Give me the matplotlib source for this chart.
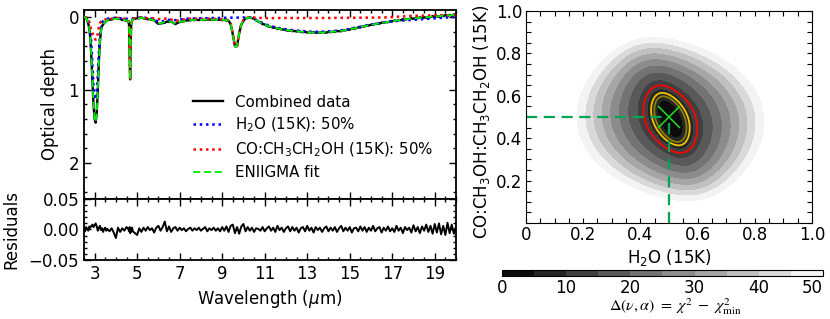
import numpy as np
import matplotlib
matplotlib.use("Agg")
import matplotlib.pyplot as plt
from matplotlib.ticker import MultipleLocator

plt.rcParams['font.family'] = ['DejaVu Sans']
plt.rcParams['font.size'] = 12
plt.rcParams['mathtext.fontset'] = 'dejavusans'

# ---------------- spectrum data ----------------
wavelength = [
    2.50, 2.55, 2.60, 2.65, 2.70, 2.75, 2.80, 2.85, 2.90, 2.95, 3.00, 3.05,
    3.10, 3.15, 3.20, 3.25, 3.30, 3.35, 3.40, 3.45, 3.50, 3.55, 3.60,
    3.7, 3.8, 3.9, 4.0, 4.1, 4.2, 4.3, 4.4, 4.5,
    4.58, 4.62, 4.65, 4.67, 4.69, 4.72, 4.76,
    4.8, 4.9, 5.0, 5.1, 5.2, 5.3, 5.4, 5.5, 5.6, 5.7,
    5.8, 5.9, 6.0, 6.1, 6.2, 6.3, 6.4, 6.5, 6.6, 6.7,
    6.8, 6.9, 7.0, 7.1, 7.2, 7.3, 7.4, 7.5, 7.6, 7.7,
    7.8, 7.9, 8.0, 8.1, 8.2, 8.3, 8.4, 8.5, 8.6, 8.7,
    8.8, 8.9, 9.0, 9.1, 9.2, 9.3, 9.4, 9.5, 9.6, 9.7,
    9.8, 9.9, 10.0, 10.1, 10.2, 10.3, 10.4, 10.5, 10.6, 10.7,
    10.8, 10.9, 11.0, 11.1, 11.2, 11.3, 11.4, 11.5, 11.6, 11.7,
    11.8, 11.9, 12.0, 12.1, 12.2, 12.3, 12.4, 12.5, 12.6, 12.7,
    12.8, 12.9, 13.0, 13.1, 13.2, 13.3, 13.4, 13.5, 13.6, 13.7,
    13.8, 13.9, 14.0, 14.1, 14.2, 14.3, 14.4, 14.5, 14.6, 14.7,
    14.8, 14.9, 15.0, 15.1, 15.2, 15.3, 15.4, 15.5, 15.6, 15.7,
    15.8, 15.9, 16.0, 16.1, 16.2, 16.3, 16.4, 16.5, 16.6, 16.7,
    16.8, 16.9, 17.0, 17.1, 17.2, 17.3, 17.4, 17.5, 17.6, 17.7,
    17.8, 17.9, 18.0, 18.1, 18.2, 18.3, 18.4, 18.5, 18.6, 18.7,
    18.8, 18.9, 19.0, 19.1, 19.2, 19.3, 19.4, 19.5, 19.6, 19.7,
    19.8, 19.9, 20.0,
]

h2o_component = [
    0.00, 0.00, 0.01, 0.02, 0.04, 0.07, 0.17, 0.38, 0.68, 0.95, 1.10, 1.13,
    1.02, 0.78, 0.48, 0.25, 0.12, 0.07, 0.05, 0.04, 0.03, 0.025, 0.02,
    0.015, 0.01, 0.01, 0.01, 0.01, 0.012, 0.015, 0.02, 0.02,
    0.02, 0.02, 0.02, 0.02, 0.02, 0.02, 0.02,
    0.015, 0.012, 0.01, 0.005, 0.0, 0.005, 0.01, 0.012, 0.015, 0.02,
    0.03, 0.045, 0.06, 0.065, 0.055, 0.045, 0.04, 0.035, 0.032, 0.035,
    0.04, 0.035, 0.03, 0.028, 0.025, 0.022, 0.02, 0.02, 0.018, 0.018,
    0.016, 0.015, 0.015, 0.014, 0.013, 0.012, 0.012, 0.011, 0.01, 0.01,
    0.01, 0.009, 0.008, 0.008, 0.007, 0.007, 0.006, 0.006, 0.005, 0.005,
    0.005, 0.004, 0.004, 0.003, 0.003, 0.005, 0.01, 0.02, 0.035, 0.05,
    0.065, 0.08, 0.092, 0.103, 0.113, 0.122, 0.13, 0.137, 0.144, 0.15,
    0.156, 0.161, 0.166, 0.17, 0.174, 0.177, 0.18, 0.183, 0.186, 0.188,
    0.191, 0.193, 0.195, 0.197, 0.198, 0.199, 0.2, 0.2, 0.2, 0.199,
    0.198, 0.196, 0.194, 0.192, 0.19, 0.188, 0.185, 0.182, 0.178, 0.174,
    0.17, 0.165, 0.16, 0.154, 0.148, 0.142, 0.136, 0.13, 0.124, 0.118,
    0.112, 0.106, 0.1, 0.095, 0.09, 0.085, 0.08, 0.075, 0.071, 0.066,
    0.062, 0.059, 0.056, 0.053, 0.051, 0.049, 0.047, 0.045, 0.043, 0.041,
    0.039, 0.037, 0.035, 0.033, 0.031, 0.029, 0.027, 0.025, 0.023, 0.021,
    0.019, 0.017, 0.015, 0.013, 0.011, 0.009, 0.007, 0.005, 0.003, 0.001,
    -0.001, -0.003, -0.005,
]

co_ethanol_component = [
    0.00, 0.00, 0.00, 0.02, 0.05, 0.08, 0.13, 0.18, 0.22, 0.26, 0.29, 0.31,
    0.29, 0.22, 0.13, 0.08, 0.06, 0.05, 0.05, 0.04, 0.03, 0.03, 0.02,
    0.02, 0.02, 0.015, 0.01, 0.01, 0.015, 0.02, 0.02, 0.025,
    0.03, 0.08, 0.50, 0.84, 0.42, 0.08, 0.03,
    0.015, 0.015, 0.012, 0.008, 0.005, 0.008, 0.01, 0.012, 0.012, 0.015,
    0.015, 0.02, 0.025, 0.025, 0.02, 0.018, 0.02, 0.025, 0.03, 0.04,
    0.05, 0.045, 0.035, 0.03, 0.03, 0.025, 0.022, 0.02, 0.02, 0.02,
    0.02, 0.02, 0.022, 0.022, 0.02, 0.02, 0.018, 0.02, 0.022, 0.025,
    0.025, 0.025, 0.028, 0.03, 0.033, 0.045, 0.085, 0.22, 0.40, 0.39,
    0.22, 0.09, 0.04, 0.015, 0.005, 0.0, 0.0, 0.002, 0.005, 0.008,
    0.01, 0.01, 0.01, 0.012, 0.012, 0.012, 0.012, 0.01, 0.01, 0.01,
    0.01, 0.01, 0.01, 0.01, 0.01, 0.01, 0.01, 0.01, 0.01, 0.01,
    0.01, 0.01, 0.01, 0.01, 0.01, 0.01, 0.01, 0.01, 0.01, 0.01,
    0.01, 0.01, 0.01, 0.01, 0.01, 0.008, 0.008, 0.008, 0.008, 0.008,
    0.008, 0.008, 0.007, 0.007, 0.007, 0.006, 0.006, 0.006, 0.006, 0.005,
    0.005, 0.005, 0.005, 0.004, 0.004, 0.004, 0.003, 0.003, 0.003, 0.002,
    0.002, 0.0, -0.002, -0.004, -0.006, -0.008, -0.01, -0.012, -0.014, -0.016,
    -0.018, -0.019, -0.02, -0.021, -0.021, -0.022, -0.022, -0.023, -0.023, -0.024,
    -0.024, -0.025, -0.025, -0.025, -0.026, -0.026, -0.027, -0.027, -0.028, -0.028,
    -0.029, -0.029, -0.03,
]

residuals = [
    0.002, -0.003, 0.004, 0.001, -0.002, 0.005, 0.003, 0.006, 0.008, 0.004, 0.007, 0.010,
    0.005, -0.002, 0.003, 0.006, -0.001, 0.002, -0.004, 0.001, 0.003, -0.002, 0.001,
    -0.003, 0.002, -0.005, -0.014, 0.003, -0.004, 0.002, -0.002, 0.004,
    0.001, -0.003, 0.004, -0.006, 0.002, -0.004, 0.003,
    -0.003, -0.006, -0.009, 0.002, -0.004, 0.003, -0.002, 0.004, -0.001, 0.002,
    -0.005, 0.003, 0.006, -0.002, 0.004, 0.013, -0.003, 0.005, -0.004, 0.002,
    0.004, -0.002, 0.003, -0.001, 0.002, -0.003, 0.001, 0.003, -0.002, 0.002,
    -0.001, 0.003, -0.002, 0.001, 0.004, -0.003, 0.002, -0.001, 0.003, -0.002,
    0.002, -0.003, 0.004, -0.002, 0.005, -0.004, 0.006, 0.008, -0.006, 0.004,
    -0.007, 0.005, 0.009, -0.003, 0.004, -0.002, 0.003, -0.004, 0.002, 0.001,
    -0.002, 0.004, -0.003, 0.002, 0.005, -0.002, 0.003, -0.004, 0.006, -0.001,
    0.003, -0.004, 0.002, 0.005, -0.003, 0.004, -0.002, 0.003, -0.005, 0.002,
    0.004, -0.003, 0.006, -0.002, 0.003, -0.005, 0.004, -0.001, 0.003, -0.004,
    0.002, 0.005, -0.003, 0.003, -0.002, 0.004, -0.004, 0.002, 0.006, -0.003,
    0.003, -0.002, 0.004, -0.005, 0.002, 0.003, -0.003, 0.005, -0.002, 0.004,
    -0.004, 0.003, -0.002, 0.006, -0.003, 0.002, 0.004, -0.005, 0.003, -0.002,
    0.005, -0.003, 0.002, -0.004, 0.006, -0.002, 0.003, -0.006, 0.004, -0.001,
    0.003, -0.005, 0.007, -0.003, 0.004, -0.006, 0.005, -0.002, 0.008, -0.004,
    0.006, -0.007, 0.009, -0.005, 0.010, -0.008, 0.006, -0.009, 0.011, -0.006,
    0.008, -0.007, 0.005,
]

legend_labels = ['Combined data', 'H$_2$O (15K): 50%',
                 'CO:CH$_3$CH$_2$OH (15K): 50%', 'ENIIGMA fit']

# ---------------- chi-square map parameters ----------------
best_h2o = 0.5
best_co = 0.5
chi_center = (0.505, 0.49)
chi_tilt_deg = 16.0
lin_slope = (126.7, 32.8)     # linear-term slopes along (minor, major) axis
quad_coef = (83.4, 239.0)     # quadratic-term coefficients along (minor, major) axis
fill_levels = [0, 5, 10, 15, 20, 25, 30, 35, 40, 45, 50]
line_levels = [6.6, 8.1, 11.8]
line_colors = ['#8a8000', '#f2c200', '#ff0000']
cbar_ticks = [0, 10, 20, 30, 40, 50]
xtick_vals = [0, 0.2, 0.4, 0.6, 0.8, 1.0]
xtick_labels = ['0', '0.2', '0.4', '0.6', '0.8', '1.0']
ytick_vals = [0.2, 0.4, 0.6, 0.8, 1.0]
ytick_labels = ['0.2', '0.4', '0.6', '0.8', '1.0']

# ---------------- derived ----------------
wl = np.array(wavelength)
h2o = np.array(h2o_component)
coe = np.array(co_ethanol_component)
res = np.array(residuals)
fit = h2o + coe
data = fit + res

fig = plt.figure(figsize=(8.3, 3.19), dpi=100)
ax1 = fig.add_axes([0.1012, 0.3762, 0.4482, 0.5925])
ax2 = fig.add_axes([0.1012, 0.185, 0.4482, 0.1912], sharex=ax1)
ax3 = fig.add_axes([0.6337, 0.3009, 0.3446, 0.6646])
cax = fig.add_axes([0.6048, 0.1348, 0.3867, 0.0188])

l1, = ax1.plot(wl, data, color='black', lw=1.7, zorder=2)
l2, = ax1.plot(wl, h2o, color='#0000ff', lw=1.8, ls=(0, (1, 1.5)), zorder=3)
l3, = ax1.plot(wl, coe, color='#ff0000', lw=1.8, ls=(0, (1, 1.5)), zorder=3)
l4, = ax1.plot(wl, fit, color='#00ee00', lw=1.3, ls=(0, (4, 2)), zorder=4)
ax1.set_xlim(2.5, 20)
ax1.set_ylim(2.5, -0.1)
ax1.set_ylabel('Optical depth')
ax1.yaxis.set_label_coords(-0.068, 0.5)
ax1.yaxis.set_major_locator(MultipleLocator(1))
ax1.yaxis.set_minor_locator(MultipleLocator(0.2))
ax1.set_xticks([3, 5, 7, 9, 11, 13, 15, 17, 19])
ax1.xaxis.set_minor_locator(MultipleLocator(0.5))
ax1.tick_params(labelbottom=False)
leg = ax1.legend([l1, l2, l3, l4], legend_labels, loc='center',
                 bbox_to_anchor=(0.615, 0.325), frameon=False, fontsize=10.8,
                 handlelength=2.0, labelspacing=0.42, handletextpad=0.8)

ax2.plot(wl, res, color='black', lw=1.4)
ax2.set_ylim(-0.05, 0.05)
ax2.set_yticks([-0.05, 0.0, 0.05])
ax2.yaxis.set_minor_locator(MultipleLocator(0.01))
ax2.set_ylabel('Residuals')
ax2.yaxis.set_label_coords(-0.17, 0.5)
ax2.set_xlabel('Wavelength ($\\mu$m)')

for ax in (ax1, ax2):
    ax.tick_params(which='both', direction='in', top=True, right=True, width=1.0)
    ax.tick_params(which='major', length=5)
    ax.tick_params(which='minor', length=2.5)
    for s in ax.spines.values():
        s.set_linewidth(1.3)

# ---------------- chi-square map ----------------
gx = np.linspace(0, 1, 401)
GX, GY = np.meshgrid(gx, gx)
th = np.deg2rad(chi_tilt_deg)
dx = GX - chi_center[0]
dy = GY - chi_center[1]
u = dx * np.cos(th) + dy * np.sin(th)
v = -dx * np.sin(th) + dy * np.cos(th)
lin_term = np.sqrt((lin_slope[0] * u) ** 2 + (lin_slope[1] * v) ** 2)
quad_term = quad_coef[0] * u ** 2 + quad_coef[1] * v ** 2
delta = lin_term + quad_term

cf = ax3.contourf(GX, GY, delta, levels=fill_levels, cmap='gray')
ax3.contour(GX, GY, delta, levels=line_levels, colors=line_colors, linewidths=1.3)
ax3.plot([0, best_h2o], [best_co, best_co], color='#00a651', lw=1.6, ls=(0, (5, 3)))
ax3.plot([best_h2o, best_h2o], [0, best_co], color='#00a651', lw=1.6, ls=(0, (5, 3)))
ax3.plot([best_h2o], [best_co], marker='x', color='#22dd22', markersize=16, mew=1.1)
ax3.set_xlim(0, 1)
ax3.set_ylim(0, 1)
ax3.set_xticks(xtick_vals)
ax3.set_xticklabels(xtick_labels)
ax3.set_yticks(ytick_vals)
ax3.set_yticklabels(ytick_labels)
ax3.xaxis.set_minor_locator(MultipleLocator(0.05))
ax3.yaxis.set_minor_locator(MultipleLocator(0.05))
ax3.tick_params(which='both', direction='in', top=True, right=True, width=0.8,
                length=3.5, pad=2.5)
ax3.set_xlabel('H$_2$O (15K)', labelpad=2)
ax3.set_ylabel('CO:CH$_3$OH:CH$_3$CH$_2$OH (15K)')
ax3.yaxis.set_label_coords(-0.118, 0.48)
for s in ax3.spines.values():
    s.set_linewidth(0.8)

cb = fig.colorbar(cf, cax=cax, orientation='horizontal', ticks=cbar_ticks)
cb.ax.tick_params(length=0, pad=2, labelsize=12)
cb.outline.set_linewidth(0.8)
cb.ax.get_xticklabels()[-1].set_horizontalalignment('right')
cb.set_label(r'$\Delta(\nu,\alpha)\ =\ \chi^2\ -\ \chi^2_{\rm min}$',
             fontsize=11.5, math_fontfamily='stix')
cb.ax.xaxis.set_label_coords(0.54, -3.4)

fig.savefig('out.png', dpi=100)
